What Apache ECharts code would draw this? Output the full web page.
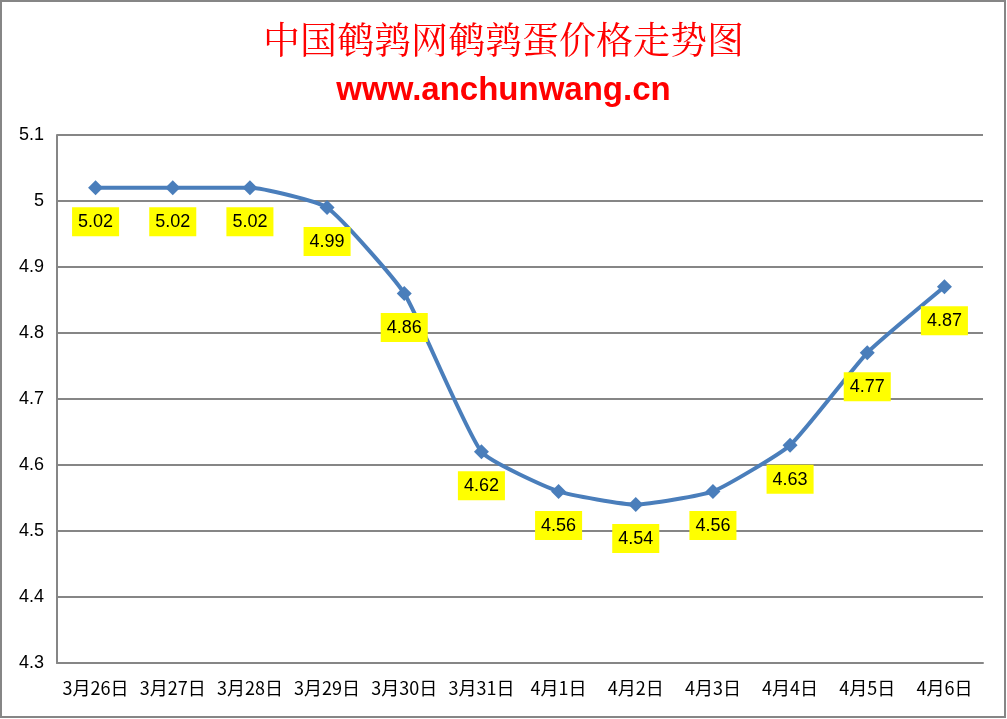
<!DOCTYPE html>
<html><head><meta charset="utf-8">
<script src="https://cdn.jsdelivr.net/npm/echarts@6/dist/echarts.min.js"></script>
<style>html,body{margin:0;padding:0;background:#fff}#c{width:1007px;height:719px}</style>
</head><body><div id="c"></div>
<script>
const categories = ['3月26日','3月27日','3月28日','3月29日','3月30日','3月31日','4月1日','4月2日','4月3日','4月4日','4月5日','4月6日'];
const prices = [5.02,5.02,5.02,4.99,4.86,4.62,4.56,4.54,4.56,4.63,4.77,4.87];
const yTicks = {min:4.3, max:5.1, interval:0.1};
const titleText = '中国鹌鹑网鹌鹑蛋价格走势图';
const subText = 'www.anchunwang.cn';

const chart = echarts.init(document.getElementById('c'));
chart.setOption({
  animation:false,
  backgroundColor:'#fff',
  graphic:[{type:'rect',shape:{x:1,y:1,width:1004,height:716},style:{fill:'none',stroke:'#868686',lineWidth:2},silent:true}],
  title:[
    {text:titleText,left:'center',top:16,textStyle:{color:'#ff0000',fontSize:37,fontWeight:'normal',fontFamily:'"Noto Serif CJK SC","Noto Sans CJK SC",serif'}},
    {text:subText,left:'center',top:69,textStyle:{color:'#ff0000',fontSize:33,fontWeight:'bold',fontFamily:'"Liberation Sans",Arial,sans-serif'}}
  ],
  grid:{left:57,right:24,top:135,bottom:56,containLabel:false},
  xAxis:{type:'category',data:categories,boundaryGap:true,
    axisLine:{lineStyle:{color:'#868686',width:2}},axisTick:{show:false},
    axisLabel:{color:'#000',fontSize:18,margin:16,fontFamily:'"Noto Sans CJK SC","Liberation Sans",sans-serif',interval:0}},
  yAxis:{type:'value',min:yTicks.min,max:yTicks.max,interval:yTicks.interval,
    axisLine:{show:true,lineStyle:{color:'#868686',width:2}},axisTick:{show:false},
    splitLine:{lineStyle:{color:'#868686',width:2}},
    axisLabel:{color:'#000',fontSize:18,margin:13,fontFamily:'"Liberation Sans",Arial,sans-serif',
      formatter:v=>String(parseFloat(v.toFixed(1)))}},
  series:[{type:'line',data:prices,smooth:0.15,
    lineStyle:{color:'#4a7ebb',width:4},
    itemStyle:{color:'#4a7ebb'},symbol:'diamond',symbolSize:15,
    label:{show:true,position:'bottom',distance:12,color:'#000',fontSize:18,
      fontFamily:'"Liberation Sans",Arial,sans-serif',backgroundColor:'#ffff00',
      padding:[6,6,5,6],formatter:p=>p.value.toFixed(2)}}]
});
</script></body></html>
